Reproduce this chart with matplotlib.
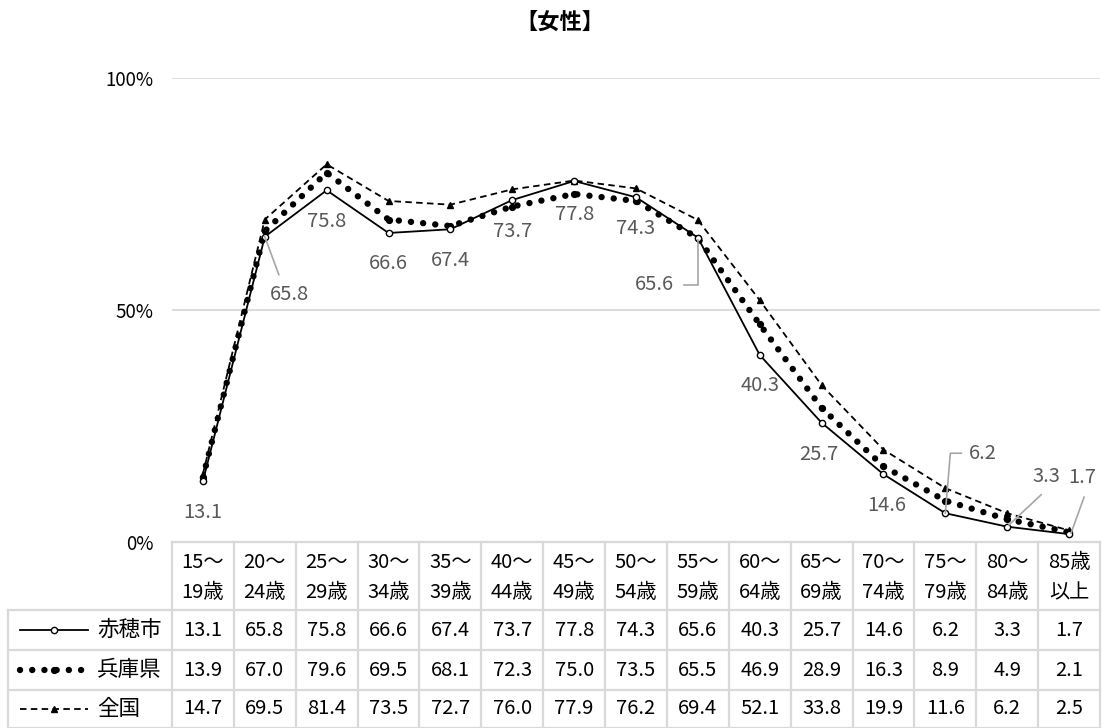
import matplotlib
matplotlib.use("Agg")
import matplotlib.pyplot as plt
from matplotlib.lines import Line2D
import numpy as np

plt.rcParams['font.family'] = ['Noto Sans CJK JP', 'DejaVu Sans']

# data
ages = ['15～\n19歳', '20～\n24歳', '25～\n29歳', '30～\n34歳', '35～\n39歳',
        '40～\n44歳', '45～\n49歳', '50～\n54歳', '55～\n59歳', '60～\n64歳',
        '65～\n69歳', '70～\n74歳', '75～\n79歳', '80～\n84歳', '85歳\n以上']
ako = [13.1, 65.8, 75.8, 66.6, 67.4, 73.7, 77.8, 74.3, 65.6, 40.3, 25.7, 14.6, 6.2, 3.3, 1.7]
hyogo = [13.9, 67.0, 79.6, 69.5, 68.1, 72.3, 75.0, 73.5, 65.5, 46.9, 28.9, 16.3, 8.9, 4.9, 2.1]
zenkoku = [14.7, 69.5, 81.4, 73.5, 72.7, 76.0, 77.9, 76.2, 69.4, 52.1, 33.8, 19.9, 11.6, 6.2, 2.5]
names = ['赤穂市', '兵庫県', '全国']

# layout (pixels)
W, H = 1103, 728
left, right, top, base = 172, 1100, 78, 542
row_lines = [610, 650, 690, 728]
tab_left = 8
grid_c = '#d9d9d9'
label_c = '#595959'
lead_c = '#a6a6a6'

# label offsets from point (dx, dy) in pixels, screen y down
lab_off = [(0, 31), (25, 58), (0, 31), (0, 31), (0, 31), (0, 31), (0, 33), (0, 31),
           (-43, 47), (0, 30), (-3, 32), (3, 31), (37, -60), (39, -50), (13, -57)]
# leader paths relative to the point
leaders = {1: [(0, 0), (14, 38)],
           8: [(0, 2), (0, 47), (-14, 47)],
           12: [(0, 0), (5, -60), (16, -60)],
           13: [(2, -2), (34, -32)],
           14: [(2, -1), (15, -37)]}

styles = [
    dict(color='black', lw=1.3, marker='o', ms=4.5, mfc='white', mec='black', mew=1.0),
    dict(color='black', lw=4.6, ls=(0, (0.01, 1.9)), dash_capstyle='round',
         marker='o', ms=4.2, mfc='black', mec='black'),
    dict(color='black', lw=1.3, ls=(0, (3.6, 2.4)), marker='^', ms=5, mfc='black', mec='black'),
]
series = [ako, hyogo, zenkoku]

fig = plt.figure(figsize=(W / 100, H / 100), dpi=100)
ax = fig.add_axes([left / W, (H - base) / H, (right - left) / W, (base - top) / H])
x = np.arange(len(ages))
ax.set_xlim(-0.5, len(ages) - 0.5)
ax.set_ylim(0, 100)
for s in ax.spines.values():
    s.set_visible(False)
ax.set_xticks([])
ax.set_yticks([0, 50, 100])
ax.set_yticklabels(['0%', '50%', '100%'], fontsize=13.5)
ax.tick_params(axis='y', length=0, pad=13.5)
for g in [50, 100]:
    ax.axhline(g, color=grid_c, lw=1.3, zorder=0)

for k in [2, 1, 0]:
    ax.plot(x, series[k], zorder=3 + (2 - k), clip_on=False, **styles[k])

# overlay in pixel coordinates
ov = fig.add_axes([0, 0, 1, 1])
ov.set_xlim(0, W)
ov.set_ylim(H, 0)
ov.axis('off')
ov.patch.set_alpha(0)


def to_px(i, v):
    d = ax.transData.transform((i, v))
    return d[0], H - d[1]


# data labels for 赤穂市
for i, v in enumerate(ako):
    px, py = to_px(i, v)
    dx, dy = lab_off[i]
    ov.text(px + dx, py + dy, f'{v:.1f}', color=label_c, fontsize=14.5,
            ha='center', va='center')
    if i in leaders:
        pts = np.array(leaders[i], dtype=float)
        ov.plot(px + pts[:, 0], py + pts[:, 1], color=lead_c, lw=1.2)

fig.text(560 / W, 1 - 23 / H, '【女性】', fontsize=16, fontweight='bold',
         ha='center', va='center')

# table
colw = (right - left) / len(ages)
edges = [left + j * colw for j in range(len(ages) + 1)]
ov.plot([left, right], [base, base], color=grid_c, lw=1.6)
for yl in row_lines:
    ov.plot([tab_left, right], [yl, yl], color=grid_c, lw=1.6)
for xe in edges:
    ov.plot([xe, xe], [base, H], color=grid_c, lw=1.6)
ov.plot([tab_left, tab_left], [row_lines[0], H], color=grid_c, lw=1.6)

for j, lab in enumerate(ages):
    cx = (edges[j] + edges[j + 1]) / 2
    l1, l2 = lab.split('\n')
    ov.text(cx, 563, l1, fontsize=14.5, ha='center', va='center')
    ov.text(cx, 593, l2, fontsize=14.5, ha='center', va='center')

for r, vals in enumerate(series):
    cy = (row_lines[r] + row_lines[r + 1]) / 2
    for j, v in enumerate(vals):
        cx = (edges[j] + edges[j + 1]) / 2
        ov.text(cx, cy, f'{v:.1f}', fontsize=14.5, ha='center', va='center')
    ov.text(97, cy, names[r], fontsize=15.5, ha='left', va='center')
    st = dict(styles[r])
    st.pop('marker')
    ms = st.pop('ms')
    mfc = st.pop('mfc')
    mec = st.pop('mec')
    mew = st.pop('mew', 1.0)
    ov.add_line(Line2D([20, 88], [cy, cy], **st))
    ov.plot([54], [cy], marker=styles[r]['marker'], ms=ms, mfc=mfc, mec=mec,
            mew=mew, ls='none')

fig.savefig('out.png', dpi=100)
